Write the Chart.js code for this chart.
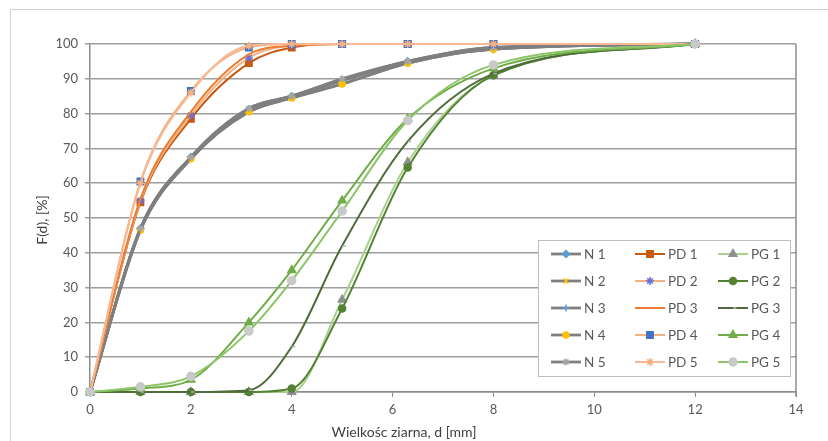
<!DOCTYPE html>
<html>
<head>
<meta charset="utf-8">
<script src="https://cdn.jsdelivr.net/npm/chart.js@4/dist/chart.umd.min.js"></script>
<style>
html,body{margin:0;padding:0;background:#fff;}
#wrap{position:relative;width:828px;height:441px;overflow:hidden;}
#frame{position:absolute;left:10px;top:9px;width:840px;height:460px;border:1px solid #d0d0d0;box-sizing:border-box;pointer-events:none;}
canvas{position:absolute;left:0;top:0;}
</style>
</head>
<body>
<div id="wrap">
<canvas id="c" width="828" height="441"></canvas>
<div id="frame"></div>
</div>
<script>
// Sieve sizes (x, mm)
const sizes = [0, 1, 2, 3.15, 4, 5, 6.3, 8, 12];
const seriesNames = ['N 1','N 2','N 3','N 4','N 5','PD 1','PD 2','PD 3','PD 4','PD 5','PG 1','PG 2','PG 3','PG 4','PG 5'];
// Cumulative passing F(d) [%]
const N1  = [0, 47,   67.5, 81,   85,   89.5, 95,   98.5, 100];
const N2  = [0, 46.5, 67,   80.5, 84.5, 88.5, 94.5, 98.5, 100];
const N3  = [0, 47,   67.5, 81.5, 85,   89.5, 95,   99,   100];
const N4  = [0, 46.5, 67,   80.5, 84.5, 88.5, 94.5, 98.5, 100];
const N5  = [0, 47,   67.5, 81.5, 85,   90,   95,   99,   100];
const PD1 = [0, 54.5, 78.5, 94.5, 99,   100,  100,  100,  100];
const PD2 = [0, 55,   79.5, 96,   99.5, 100,  100,  100,  100];
const PD3 = [0, 55.5, 80.5, 97,   99.5, 100,  100,  100,  100];
const PD4 = [0, 60.5, 86.5, 99,   100,  100,  100,  100,  100];
const PD5 = [0, 60,   86,   99.5, 100,  100,  100,  100,  100];
const PG1 = [0, 0,    0,    0,    0,    26.5, 66,   91,   100];
const PG2 = [0, 0,    0,    0,    1,    24,   64.5, 91,   100];
const PG3 = [0, 0,    0,    0.5,  13,   42,   72,   91.5, 100];
const PG4 = [0, 1,    3.5,  20,   35,   55,   78.5, 93,   100];
const PG5 = [0, 1.5,  4.5,  17.5, 32,   52,   78,   94,   100];
const xTicks = [0, 2, 4, 6, 8, 10, 12, 14];
const yTicks = [0, 10, 20, 30, 40, 50, 60, 70, 80, 90, 100];

const values = [N1,N2,N3,N4,N5,PD1,PD2,PD3,PD4,PD5,PG1,PG2,PG3,PG4,PG5];
const styles = [
  {line:'#7f7f7f', w:2.8, ps:'rectRot',  pc:'#5b9bd5', r:3.5},
  {line:'#7f7f7f', w:2.8, ps:'crossRot', pc:'#ffc000', r:3.5},
  {line:'#7f7f7f', w:2.8, ps:'cross',    pc:'#5b9bd5', r:3.5},
  {line:'#7f7f7f', w:2.8, ps:'circle',   pc:'#ffc000', r:3},
  {line:'#7f7f7f', w:2.8, ps:'star',     pc:'#a5a5a5', r:3.5},
  {line:'#c55a11', w:2,   ps:'rect',     pc:'#c55a11', r:4.5},
  {line:'#f4b183', w:2,   ps:'star',     pc:'#6f70d0', r:4},
  {line:'#ed7d31', w:2,   ps:false,      pc:'#ed7d31', r:0},
  {line:'#f4b183', w:2,   ps:'rect',     pc:'#4472c4', r:4.5},
  {line:'#f8b894', w:2,   ps:'star',     pc:'#f4b183', r:4},
  {line:'#a9d18e', w:2,   ps:'triangle', pc:'#8f8f8f', r:4.5},
  {line:'#548235', w:2,   ps:'circle',   pc:'#548235', r:3.5},
  {line:'#4e6b3a', w:2,   ps:'dash',     pc:'#b0b0b0', r:3.5},
  {line:'#70ad47', w:2,   ps:'triangle', pc:'#70ad47', r:4.5},
  {line:'#8cc56a', w:2,   ps:'circle',   pc:'#c9c9c9', r:4}
];

const datasets = seriesNames.map((name, i) => ({
  label: name,
  data: sizes.map((x, k) => ({x: x, y: values[i][k]})),
  borderColor: styles[i].line,
  borderWidth: styles[i].w,
  pointStyle: styles[i].ps,
  pointRadius: styles[i].r,
  pointBackgroundColor: styles[i].pc,
  pointBorderColor: styles[i].pc,
  pointBorderWidth: 1.5,
  cubicInterpolationMode: 'monotone',
  fill: false,
  clip: false,
  order: 20 - i
}));

const FONT = 'Lato, "Open Sans", sans-serif';

const extras = {
  id: 'extras',
  beforeDatasetsDraw(chart) {
    const {ctx, chartArea: a} = chart;
    ctx.save();
    ctx.strokeStyle = '#8c8c8c';
    ctx.lineWidth = 1.5;
    ctx.beginPath();
    ctx.moveTo(a.right, a.top);
    ctx.lineTo(a.right, a.bottom + 5);
    ctx.stroke();
    ctx.restore();
  },
  afterDraw(chart) {
    const {ctx} = chart;
    ctx.save();
    // axis titles
    ctx.fillStyle = '#404040';
    ctx.font = '14px ' + FONT;
    ctx.textAlign = 'center';
    ctx.textBaseline = 'middle';
    ctx.fillText('Wielkośc ziarna, d [mm]', 404, 432);
    ctx.save();
    ctx.translate(42, 220);
    ctx.rotate(-Math.PI / 2);
    ctx.font = '14px ' + FONT;
    ctx.fillText('F(d), [%]', 0, 0);
    ctx.restore();

    // legend
    const bx = 538, by = 240, bw = 252, bh = 136;
    ctx.fillStyle = '#ffffff';
    ctx.fillRect(bx, by, bw, bh);
    ctx.strokeStyle = '#bfbfbf';
    ctx.lineWidth = 1;
    ctx.strokeRect(bx + 0.5, by + 0.5, bw, bh);
    const colX = [551, 635, 718];
    const rowY = [254, 281, 308, 335, 362];
    ctx.font = '13.5px ' + FONT;
    ctx.textAlign = 'left';
    chart.data.datasets.forEach((ds, i) => {
      const cx = colX[Math.floor(i / 5)], cy = rowY[i % 5];
      ctx.strokeStyle = ds.borderColor;
      ctx.lineWidth = ds.borderWidth;
      ctx.beginPath();
      ctx.moveTo(cx, cy);
      ctx.lineTo(cx + 30, cy);
      ctx.stroke();
      if (ds.pointStyle && Chart.helpers && Chart.helpers.drawPoint) {
        ctx.fillStyle = ds.pointBackgroundColor;
        ctx.strokeStyle = ds.pointBorderColor;
        ctx.lineWidth = ds.pointBorderWidth;
        Chart.helpers.drawPoint(ctx, {pointStyle: ds.pointStyle, radius: ds.pointRadius, rotation: 0, borderWidth: ds.pointBorderWidth}, cx + 15, cy);
      }
      ctx.fillStyle = '#595959';
      ctx.fillText(ds.label, cx + 33, cy + 1);
    });
    ctx.restore();
  }
};

new Chart(document.getElementById('c'), {
  type: 'line',
  data: {datasets},
  options: {
    responsive: false,
    animation: false,
    events: [],
    layout: {padding: {left: 0, right: 32, top: 44, bottom: 0}},
    plugins: {legend: {display: false}, tooltip: {enabled: false}},
    scales: {
      x: {
        type: 'linear',
        min: 0, max: 14,
        afterFit(s) { s.height = 49; },
        afterBuildTicks(s) { s.ticks = xTicks.map(v => ({value: v})); },
        ticks: {color: '#595959', font: {family: FONT, size: 13}, padding: 5},
        grid: {display: true, drawOnChartArea: false, drawTicks: true, tickLength: 5, color: '#8c8c8c', lineWidth: 1},
        border: {display: true, color: '#8c8c8c', width: 1.5}
      },
      y: {
        type: 'linear',
        min: 0, max: 100,
        afterFit(s) { s.width = 90; },
        afterBuildTicks(s) { s.ticks = yTicks.map(v => ({value: v})); },
        ticks: {color: '#595959', font: {family: FONT, size: 13}, padding: 7},
        grid: {color: '#9e9e9e', lineWidth: 1.5, tickLength: 5, drawTicks: true},
        border: {display: true, color: '#8c8c8c', width: 1.5}
      }
    }
  },
  plugins: [extras]
});
</script>
</body>
</html>
